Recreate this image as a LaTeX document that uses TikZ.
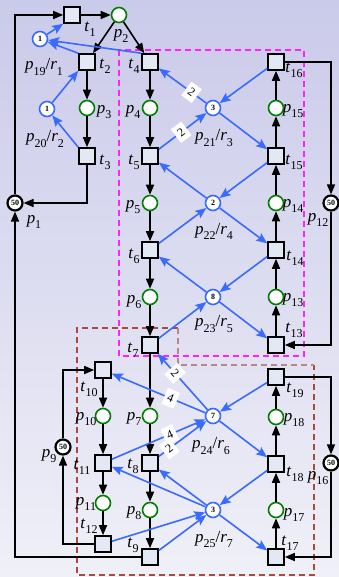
\documentclass[tikz,border=0pt]{standalone}
\usepackage{fontspec}
\setmainfont{Liberation Serif}
\usetikzlibrary{arrows.meta}
\definecolor{bgtop}{HTML}{CACAEA}
\definecolor{bgbot}{HTML}{F0F0F8}
\definecolor{tfill}{HTML}{E2E8F4}
\definecolor{pgreen}{HTML}{008000}
\definecolor{rblue}{HTML}{3A6BFF}
\definecolor{dmag}{HTML}{FF22FF}
\definecolor{dbrown}{HTML}{A84A3C}
\definecolor{lbrown}{HTML}{B88888}
\newcommand\lb[2]{\textit{#1}\raisebox{-0.3em}{\fontsize{12}{12}\selectfont #2}}
\begin{document}
\begin{tikzpicture}[x=1pt,y=-1pt,
 trans/.style={draw=black,line width=1.6pt,fill=tfill,minimum size=16pt,inner sep=0pt},
 place/.style={circle,draw=pgreen,line width=1.6pt,fill=white,minimum size=15pt,inner sep=0pt},
 res/.style={circle,draw=rblue,line width=1.6pt,fill=white,minimum size=15pt,inner sep=0pt,font=\fontsize{8}{8}\selectfont\bfseries},
 capp/.style={circle,draw=black,line width=2.2pt,fill=white,minimum size=15pt,inner sep=0pt,font=\fontsize{8}{8}\selectfont\bfseries},
 lab/.style={font=\fontsize{17}{17}\selectfont,inner sep=0pt},
 barc/.style={draw=black,line width=1.6pt,-{Triangle[length=10pt,width=8pt]}},
 rarc/.style={draw=rblue,line width=1.6pt,-{Stealth[length=11pt,width=9pt,inset=2pt]}},
 wt/.style={sloped,fill=white,inner sep=0pt,minimum width=13pt,minimum height=17pt,font=\fontsize{12}{12}\selectfont},
 dsh/.style={line width=1.2pt,dash pattern=on 6pt off 4pt},
]
\useasboundingbox (0,0) rectangle (339,577);
\shade[top color=bgtop,bottom color=bgbot] (0,0) rectangle (339,577);

% dashed regions
\draw[dsh,draw=dmag] (119,50) rectangle (304,356);
\draw[dsh,draw=dbrown] (178,328) -- (77,328) -- (77,575) -- (314,575) -- (314,365);
\draw[dsh,draw=lbrown] (178,328) -- (178,365) -- (314,365);

% nodes
\node[trans] (t1) at (72,15) {};
\node[place] (p2) at (119,15) {};
\node[res] (p19) at (40,39) {1};
\node[trans] (t2) at (87,62) {};
\node[trans] (t4) at (150,62) {};
\node[place] (p3) at (87,108) {};
\node[res] (p20) at (47,109) {1};
\node[trans] (t3) at (87,156) {};
\node[place] (p4) at (150,108) {};
\node[trans] (t5) at (150,156) {};
\node[place] (p5) at (150,203) {};
\node[trans] (t6) at (150,250) {};
\node[place] (p6) at (150,297) {};
\node[trans] (t7) at (150,345) {};
\node[place] (p7) at (150,416) {};
\node[trans] (t8) at (150,463) {};
\node[place] (p8) at (150,510) {};
\node[trans] (t9) at (150,557) {};
\node[capp] (p1) at (15,203) {50};
\node[trans] (t16) at (276,62) {};
\node[place] (p15) at (276,108) {};
\node[trans] (t15) at (276,156) {};
\node[place] (p14) at (276,203) {};
\node[trans] (t14) at (276,250) {};
\node[place] (p13) at (276,297) {};
\node[trans] (t13) at (276,345) {};
\node[capp] (p12) at (331,203) {50};
\node[res] (p21) at (213,108) {3};
\node[res] (p22) at (213,203) {2};
\node[res] (p23) at (213,297) {8};
\node[res] (p24) at (213,416) {7};
\node[res] (p25) at (213,510) {3};
\node[trans] (t10) at (103,370) {};
\node[place] (p10) at (103,416) {};
\node[trans] (t11) at (103,463) {};
\node[place] (p11) at (103,503) {};
\node[trans] (t12) at (103,544) {};
\node[capp] (p9) at (63,447) {50};
\node[trans] (t19) at (276,377) {};
\node[place] (p18) at (276,417) {};
\node[trans] (t18) at (276,464) {};
\node[place] (p17) at (276,510) {};
\node[trans] (t17) at (276,557) {};
\node[capp] (p16) at (331,463) {50};

% labels
\node[lab] (l-t1) at (90,29) {\lb{t}{1}};
\node[lab] (l-p2) at (121,36) {\lb{p}{2}};
\node[lab] (l-p19) at (44,67) {\lb{p}{19}/\lb{r}{1}};
\node[lab] (l-t2) at (105,66) {\lb{t}{2}};
\node[lab] (l-t4) at (134,66) {\lb{t}{4}};
\node[lab] (l-p3) at (104,112) {\lb{p}{3}};
\node[lab] (l-p4) at (133,112) {\lb{p}{4}};
\node[lab] (l-p20) at (45,139) {\lb{p}{20}/\lb{r}{2}};
\node[lab] (l-t3) at (105,162) {\lb{t}{3}};
\node[lab] (l-t5) at (134,162) {\lb{t}{5}};
\node[lab] (l-p5) at (133,207) {\lb{p}{5}};
\node[lab] (l-t6) at (134,256) {\lb{t}{6}};
\node[lab] (l-p6) at (134,302) {\lb{p}{6}};
\node[lab] (l-t7) at (133,350) {\lb{t}{7}};
\node[lab] (l-p1) at (34,222) {\lb{p}{1}};
\node[lab] (l-t16) at (294,70) {\lb{t}{16}};
\node[lab] (l-p15) at (293,111) {\lb{p}{15}};
\node[lab] (l-t15) at (294,162) {\lb{t}{15}};
\node[lab] (l-p21) at (214,138) {\lb{p}{21}/\lb{r}{3}};
\node[lab] (l-p14) at (293,206) {\lb{p}{14}};
\node[lab] (l-p12) at (318,220) {\lb{p}{12}};
\node[lab] (l-p22) at (214,231) {\lb{p}{22}/\lb{r}{4}};
\node[lab] (l-t14) at (295,258) {\lb{t}{14}};
\node[lab] (l-p13) at (293,300) {\lb{p}{13}};
\node[lab] (l-p23) at (214,324) {\lb{p}{23}/\lb{r}{5}};
\node[lab] (l-t13) at (294,330) {\lb{t}{13}};
\node[lab] (l-t10) at (89,389) {\lb{t}{10}};
\node[lab] (l-p10) at (86,419) {\lb{p}{10}};
\node[lab] (l-t11) at (82,467) {\lb{t}{11}};
\node[lab] (l-p9) at (49,456) {\lb{p}{9}};
\node[lab] (l-p7) at (134,419) {\lb{p}{7}};
\node[lab] (l-t8) at (133,466) {\lb{t}{8}};
\node[lab] (l-p11) at (86,504) {\lb{p}{11}};
\node[lab] (l-t12) at (89,526) {\lb{t}{12}};
\node[lab] (l-p8) at (134,513) {\lb{p}{8}};
\node[lab] (l-t9) at (133,545) {\lb{t}{9}};
\node[lab] (l-t19) at (295,390) {\lb{t}{19}};
\node[lab] (l-p18) at (294,420) {\lb{p}{18}};
\node[lab] (l-t18) at (295,474) {\lb{t}{18}};
\node[lab] (l-p16) at (318,478) {\lb{p}{16}};
\node[lab] (l-p24) at (211,446) {\lb{p}{24}/\lb{r}{6}};
\node[lab] (l-p17) at (294,515) {\lb{p}{17}};
\node[lab] (l-p25) at (214,539) {\lb{p}{25}/\lb{r}{7}};
\node[lab] (l-t17) at (290,543) {\lb{t}{17}};

% black arcs
\draw[barc] (p1) |- (t1);
\draw[barc] (t1) -- (p2);
\draw[barc] (p2) -- (t2);
\draw[barc] (p2) -- (t4);
\draw[barc] (t2) -- (p3);
\draw[barc] (p3) -- (t3);
\draw[barc] (t3) |- (p1);
\draw[barc] (t9) -| (p1);
\draw[barc] (t4) -- (p4);
\draw[barc] (p4) -- (t5);
\draw[barc] (t5) -- (p5);
\draw[barc] (p5) -- (t6);
\draw[barc] (t6) -- (p6);
\draw[barc] (p6) -- (t7);
\draw[barc] (t7) -- (p7);
\draw[barc] (p7) -- (t8);
\draw[barc] (t8) -- (p8);
\draw[barc] (p8) -- (t9);
\draw[barc] (t10) -- (p10);
\draw[barc] (p10) -- (t11);
\draw[barc] (t11) -- (p11);
\draw[barc] (p11) -- (t12);
\draw[barc] (t12) -| (p9);
\draw[barc] (p9) |- (t10);
\draw[barc] (t13) -- (p13);
\draw[barc] (p13) -- (t14);
\draw[barc] (t14) -- (p14);
\draw[barc] (p14) -- (t15);
\draw[barc] (t15) -- (p15);
\draw[barc] (p15) -- (t16);
\draw[barc] (t16) -| (p12);
\draw[barc] (p12) |- (t13);
\draw[barc] (t17) -- (p17);
\draw[barc] (p17) -- (t18);
\draw[barc] (t18) -- (p18);
\draw[barc] (p18) -- (t19);
\draw[barc] (t19) -| (p16);
\draw[barc] (p16) |- (t17);

% blue arcs
\draw[rarc] (p19) -- (t1.south west);
\draw[rarc] (t2.north west) -- (p19);
\draw[rarc] (t4.north west) -- (p19);
\draw[rarc] (p20) -- (t2.south west);
\draw[rarc] (t3.north west) -- (p20);
\draw[rarc] (p21) -- node[wt,pos=0.31]{2} (t4);
\draw[rarc] (t5) -- node[wt,pos=0.47]{2} (p21);
\draw[rarc] (t16) -- (p21);
\draw[rarc] (p21) -- (t15);
\draw[rarc] (p22) -- (t5);
\draw[rarc] (t6) -- (p22);
\draw[rarc] (t15) -- (p22);
\draw[rarc] (p22) -- (t14);
\draw[rarc] (p23) -- (t6);
\draw[rarc] (t7) -- (p23);
\draw[rarc] (t14) -- (p23);
\draw[rarc] (p23) -- (t13);
\draw[rarc] (p24) -- node[wt,pos=0.65]{2} (t7);
\draw[rarc] (p24) -- node[wt,pos=0.37]{4} (t10);
\draw[rarc] (t11) -- node[wt,pos=0.62]{4} (p24);
\draw[rarc] (t8) -- node[wt,pos=0.22]{2} (p24);
\draw[rarc] (t19) -- (p24);
\draw[rarc] (p24) -- (t18);
\draw[rarc] (p25) -- (t11);
\draw[rarc] (p25) -- (t8);
\draw[rarc] (t12) -- (p25);
\draw[rarc] (t9) -- (p25);
\draw[rarc] (t18) -- (p25);
\draw[rarc] (p25) -- (t17);
\end{tikzpicture}
\end{document}
